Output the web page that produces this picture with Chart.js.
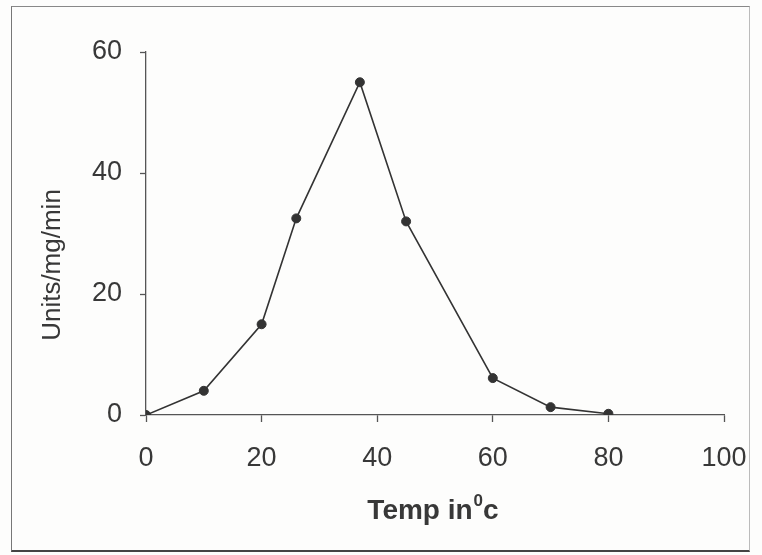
<!DOCTYPE html>
<html>
<head>
<meta charset="utf-8">
<script src="https://cdn.jsdelivr.net/npm/chart.js@4/dist/chart.umd.min.js"></script>
<style>
  html, body { margin: 0; padding: 0; background: #fdfdfc; }
  #wrap { position: relative; width: 762px; height: 555px; }
  #frame { position: absolute; left: 11px; top: 6px; width: 739px; height: 546px;
           border-left: 1.5px solid #777; border-top: 1.5px solid #888; border-right: 1px solid #bbb;
           border-bottom: 2px solid #444; pointer-events: none; box-sizing: border-box; }
  canvas { position: absolute; left: 0; top: 0; }
</style>
</head>
<body>
<div id="wrap">
  <canvas id="c" width="762" height="555"></canvas>
  <div id="frame"></div>
</div>
<script>
// Data
const temps = [0, 10, 20, 26, 37, 45, 60, 70, 80];
const activity = [0, 4, 15, 32.5, 55, 32, 6.1, 1.3, 0.2];
const xTicks = [0, 20, 40, 60, 80, 100];
const yTicks = [0, 20, 40, 60];
const xTitleMain = 'Temp in';
const xTitleSup = '0';
const xTitleEnd = 'c';
const yTitle = 'Units/mg/min';

const points = temps.map((t, i) => ({ x: t, y: activity[i] }));
const TXT = '#383838';
const AX = '#555';
const FAM = '"Liberation Sans", Arial, sans-serif';

const titlePlugin = {
  id: 'titles',
  afterDraw(chart) {
    const ctx = chart.ctx;
    const ca = chart.chartArea;
    ctx.save();
    ctx.fillStyle = TXT;
    // x title with superscript
    const fMain = 'bold 28px ' + FAM;
    const fSup = 'bold 17px ' + FAM;
    ctx.font = fMain;
    const w1 = ctx.measureText(xTitleMain).width;
    const w3 = ctx.measureText(xTitleEnd).width;
    ctx.font = fSup;
    const w2 = ctx.measureText(xTitleSup).width;
    const total = w1 + w2 + w3 + 1;
    const cx = (ca.left + ca.right) / 2 - 2;
    let x = cx - total / 2;
    const base = 519;
    ctx.textBaseline = 'alphabetic';
    ctx.textAlign = 'left';
    ctx.font = fMain;
    ctx.fillText(xTitleMain, x, base);
    x += w1 + 1;
    ctx.font = fSup;
    ctx.fillText(xTitleSup, x, base - 13);
    x += w2;
    ctx.font = fMain;
    ctx.fillText(xTitleEnd, x, base);
    // y title
    ctx.translate(60, 265);
    ctx.rotate(-Math.PI / 2);
    ctx.font = '26px ' + FAM;
    ctx.textAlign = 'center';
    ctx.fillText(yTitle, 0, 0);
    ctx.restore();
  }
};

new Chart(document.getElementById('c'), {
  type: 'scatter',
  data: {
    datasets: [{
      data: points,
      showLine: true,
      borderColor: '#333',
      borderWidth: 1.6,
      pointRadius: 4.5,
      pointBackgroundColor: '#333',
      pointBorderColor: '#333',
      pointBorderWidth: 1,
      tension: 0
    }]
  },
  options: {
    responsive: false,
    animation: false,
    layout: { padding: { top: 52, right: 38, left: 0, bottom: 0 } },
    plugins: { legend: { display: false }, tooltip: { enabled: false }, title: { display: false } },
    scales: {
      x: {
        type: 'linear', min: 0, max: 100,
        afterBuildTicks(s) { s.ticks = xTicks.map(v => ({ value: v })); },
        afterFit(s) { s.height = 140; s.paddingLeft = 0; s.paddingRight = 0; },
        ticks: { font: { size: 27, family: FAM }, color: TXT, padding: 20, maxRotation: 0, autoSkip: false },
        grid: { display: true, drawOnChartArea: false, drawTicks: true, tickLength: 7, tickColor: AX, tickWidth: 1.3 },
        border: { display: true, color: AX, width: 1.3 }
      },
      y: {
        type: 'linear', min: 0, max: 60,
        afterBuildTicks(s) { s.ticks = yTicks.map(v => ({ value: v })); },
        afterFit(s) { s.width = 146; s.paddingTop = 0; s.paddingBottom = 0; },
        ticks: { font: { size: 27, family: FAM }, color: TXT, padding: 18 },
        grid: { display: true, drawOnChartArea: false, drawTicks: true, tickLength: 6, tickColor: AX, tickWidth: 1.3 },
        border: { display: true, color: AX, width: 1.3 }
      }
    }
  },
  plugins: [titlePlugin]
});
</script>
</body>
</html>
